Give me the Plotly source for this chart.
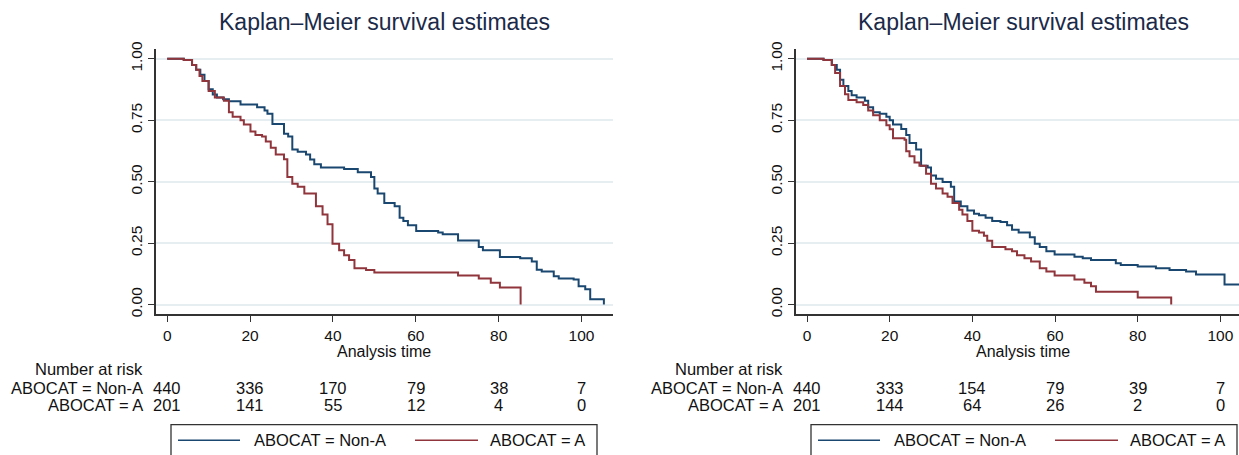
import plotly.graph_objects as go

# ---------------- data ----------------
left_nona_t = [0, 4.0, 6.0, 7.0, 8.0, 9.0, 10.0, 11.0, 12.0, 13.5, 14.9, 17.7, 21.7, 23.5, 24.2, 25.4,
               28.2, 29.2, 30.2, 31.5, 33.5, 34.5, 35.5, 37.1, 42.7, 46.0, 49.2, 50.0, 50.8, 52.4,
               54.9, 56.1, 57.0, 58.1, 60.1, 65.4, 66.5, 70.2, 75.2, 76.2, 80.3, 85.2, 88.0, 89.2,
               90.4, 93.3, 94.5, 98.1, 99.3, 100.9, 102.1, 105.4]
left_nona_s = [1.0, 0.995, 0.975, 0.955, 0.935, 0.91, 0.876, 0.855, 0.843, 0.835, 0.827, 0.814, 0.803,
               0.79, 0.776, 0.735, 0.695, 0.684, 0.631, 0.622, 0.611, 0.59, 0.571, 0.558, 0.552, 0.538,
               0.519, 0.472, 0.452, 0.413, 0.40, 0.353, 0.34, 0.323, 0.299, 0.293, 0.286, 0.261, 0.234,
               0.221, 0.194, 0.188, 0.175, 0.142, 0.135, 0.115, 0.106, 0.102, 0.075, 0.062, 0.022, 0.0]

left_a_t = [0, 4.0, 6.0, 7.0, 7.8, 8.5, 10.0, 11.5, 13.7, 14.9, 15.8, 17.7, 18.5, 20.1, 21.3, 22.9,
            23.8, 25.0, 26.2, 28.2, 29.0, 30.2, 31.5, 33.1, 35.9, 37.5, 38.7, 39.9, 41.5, 42.7, 43.9,
            45.2, 48.0, 50.0, 70.2, 75.2, 78.1, 80.3, 85.3]
left_a_s = [1.0, 0.995, 0.975, 0.955, 0.93, 0.91, 0.869, 0.843, 0.829, 0.783, 0.764, 0.75, 0.733,
            0.704, 0.69, 0.684, 0.664, 0.638, 0.611, 0.591, 0.519, 0.492, 0.479, 0.452, 0.40, 0.366,
            0.327, 0.247, 0.221, 0.201, 0.181, 0.148, 0.141, 0.131, 0.118, 0.106, 0.089, 0.069, 0.0]

right_nona_t = [0, 4.0, 6.0, 7.2, 8.0, 8.8, 10.0, 10.8, 12.0, 14.0, 14.8, 16.0, 17.6, 19.2, 20.0, 20.8,
                22.8, 24.0, 24.8, 26.4, 27.6, 29.2, 30.0, 31.2, 32.8, 34.8, 35.6, 37.2, 38.8, 40.4,
                41.6, 43.2, 44.8, 46.8, 48.4, 49.6, 51.2, 53.9, 55.1, 56.3, 57.9, 59.9, 64.7, 66.7,
                68.7, 74.7, 75.9, 80.0, 84.4, 87.7, 91.7, 94.1, 101.0, 106.0]
right_nona_s = [1.0, 0.995, 0.975, 0.955, 0.915, 0.889, 0.869, 0.852, 0.843, 0.829, 0.803, 0.783,
                0.776, 0.764, 0.75, 0.733, 0.714, 0.69, 0.657, 0.631, 0.565, 0.558, 0.525, 0.512,
                0.499, 0.479, 0.419, 0.40, 0.383, 0.37, 0.363, 0.353, 0.34, 0.336, 0.323, 0.304,
                0.293, 0.274, 0.247, 0.234, 0.217, 0.204, 0.195, 0.188, 0.181, 0.168, 0.161, 0.155,
                0.148, 0.141, 0.135, 0.122, 0.082, 0.082]

right_a_t = [0, 4.0, 6.0, 6.8, 8.0, 9.2, 10.0, 12.0, 13.6, 14.8, 16.0, 17.6, 19.2, 20.0, 20.8, 23.6,
             24.0, 24.8, 26.0, 27.2, 28.8, 30.0, 31.2, 32.8, 34.0, 35.2, 36.8, 37.6, 38.8, 40.0,
             41.6, 42.8, 43.6, 44.8, 48.0, 49.6, 50.8, 52.6, 54.2, 56.3, 57.9, 59.9, 64.7, 67.1,
             68.7, 69.9, 80.0, 88.1]
right_a_s = [1.0, 0.995, 0.975, 0.942, 0.889, 0.856, 0.832, 0.823, 0.812, 0.79, 0.77, 0.75, 0.73,
             0.713, 0.677, 0.671, 0.624, 0.604, 0.578, 0.565, 0.532, 0.492, 0.472, 0.452, 0.439,
             0.413, 0.386, 0.366, 0.34, 0.30, 0.293, 0.28, 0.26, 0.234, 0.225, 0.217, 0.201, 0.188,
             0.175, 0.148, 0.135, 0.118, 0.102, 0.089, 0.075, 0.052, 0.029, 0.0]

risk_times = [0, 20, 40, 60, 80, 100]
left_risk_nona = [440, 336, 170, 79, 38, 7]
left_risk_a = [201, 141, 55, 12, 4, 0]
right_risk_nona = [440, 333, 154, 79, 39, 7]
right_risk_a = [201, 144, 64, 26, 2, 0]

x_ticks = [0, 20, 40, 60, 80, 100]
y_ticks = [0, 0.25, 0.5, 0.75, 1.0]
y_ticklabels = ["0.00", "0.25", "0.50", "0.75", "1.00"]

title_text = "Kaplan\u2013Meier survival estimates"
label_nona = "ABOCAT = Non-A"
label_a = "ABOCAT = A"

# ---------------- styling ----------------
W, H = 1239, 455
BLUE = "#1a476f"
RED = "#90353b"
TXT = "#111111"
AX = "#333333"
GRID = "#e6eef2"
FONT = "Liberation Sans, Arial, sans-serif"


def px(x):
    return x / W


def py(y):
    return 1 - y / H


fig = go.Figure()

fig.add_trace(go.Scatter(x=left_nona_t, y=left_nona_s, mode="lines", line=dict(color=BLUE, width=2, shape="hv"),
                         name=label_nona, xaxis="x", yaxis="y"))
fig.add_trace(go.Scatter(x=left_a_t, y=left_a_s, mode="lines", line=dict(color=RED, width=2, shape="hv"),
                         name=label_a, xaxis="x", yaxis="y"))
fig.add_trace(go.Scatter(x=right_nona_t, y=right_nona_s, mode="lines", line=dict(color=BLUE, width=2, shape="hv"),
                         name=label_nona, xaxis="x2", yaxis="y2"))
fig.add_trace(go.Scatter(x=right_a_t, y=right_a_s, mode="lines", line=dict(color=RED, width=2, shape="hv"),
                         name=label_a, xaxis="x2", yaxis="y2"))

ydom = [py(314), py(42)]
xaxis_common = dict(tickvals=x_ticks, ticks="outside", ticklen=6, tickwidth=1.3, tickcolor=AX,
                    showline=True, linecolor=AX, linewidth=1.5, showgrid=False, zeroline=False,
                    tickfont=dict(family=FONT, size=15.5, color=TXT))
yaxis_common = dict(range=[-0.04, 1.04], tickvals=y_ticks, ticktext=y_ticklabels, tickangle=-90,
                    ticks="outside", ticklen=6, tickwidth=1.3, tickcolor=AX,
                    showline=True, linecolor=AX, linewidth=1.5, showgrid=True, gridcolor=GRID, gridwidth=1.5,
                    zeroline=False, tickfont=dict(family=FONT, size=15.5, color=TXT), domain=ydom)

xa1 = dict(xaxis_common); xa1.update(range=[-2.7, 107.6], domain=[px(156), px(613)], anchor="y")
xa2 = dict(xaxis_common); xa2.update(range=[-2.66, 104.5], domain=[px(796), 1.0], anchor="y2")
ya1 = dict(yaxis_common); ya1.update(anchor="x")
ya2 = dict(yaxis_common); ya2.update(anchor="x2")

fig.update_layout(width=W, height=H, margin=dict(l=0, r=0, t=0, b=0), paper_bgcolor="white",
                  plot_bgcolor="white", showlegend=False, xaxis=xa1, xaxis2=xa2, yaxis=ya1, yaxis2=ya2,
                  font=dict(family=FONT, size=16, color=TXT))

annotations = []
shapes = []

for cx in (384, 1023):
    annotations.append(dict(text=title_text, xref="paper", yref="paper", x=px(cx), y=py(14),
                            xanchor="center", yanchor="middle", showarrow=False,
                            font=dict(family=FONT, size=23, color="#1b2a48")))
    annotations.append(dict(text="Analysis time", xref="paper", yref="paper", x=px(cx), y=py(352),
                            xanchor="center", yanchor="middle", showarrow=False,
                            font=dict(family=FONT, size=16, color=TXT)))

for xref, rn, ra in (("x", left_risk_nona, left_risk_a), ("x2", right_risk_nona, right_risk_a)):
    annotations.append(dict(text="Number at risk", xref=xref, yref="paper", x=risk_times[0], xshift=-22,
                            y=py(370), xanchor="right", yanchor="middle", showarrow=False,
                            font=dict(family=FONT, size=16.5, color=TXT)))
    annotations.append(dict(text=label_nona, xref=xref, yref="paper", x=risk_times[0], xshift=-22,
                            y=py(389), xanchor="right", yanchor="middle", showarrow=False,
                            font=dict(family=FONT, size=16.5, color=TXT)))
    annotations.append(dict(text=label_a, xref=xref, yref="paper", x=risk_times[0], xshift=-22,
                            y=py(407), xanchor="right", yanchor="middle", showarrow=False,
                            font=dict(family=FONT, size=16.5, color=TXT)))
    for t, n1, n2 in zip(risk_times, rn, ra):
        annotations.append(dict(text=str(n1), xref=xref, yref="paper", x=t, y=py(389), xanchor="center",
                                yanchor="middle", showarrow=False, font=dict(family=FONT, size=16.5, color=TXT)))
        annotations.append(dict(text=str(n2), xref=xref, yref="paper", x=t, y=py(407), xanchor="center",
                                yanchor="middle", showarrow=False, font=dict(family=FONT, size=16.5, color=TXT)))

# manual legends (box + line samples + labels)
for bx in (171, 811):
    shapes.append(dict(type="rect", xref="paper", yref="paper", x0=px(bx), x1=px(bx + 426),
                       y0=py(463), y1=py(427), line=dict(color=AX, width=1.3), fillcolor="white"))
    shapes.append(dict(type="line", xref="paper", yref="paper", x0=px(bx + 7), x1=px(bx + 69),
                       y0=py(443), y1=py(443), line=dict(color=BLUE, width=1.6)))
    shapes.append(dict(type="line", xref="paper", yref="paper", x0=px(bx + 244), x1=px(bx + 307),
                       y0=py(443), y1=py(443), line=dict(color=RED, width=1.6)))
    annotations.append(dict(text=label_nona, xref="paper", yref="paper", x=px(bx + 81), y=py(443),
                            xanchor="left", yanchor="middle", showarrow=False,
                            font=dict(family=FONT, size=16.5, color=TXT)))
    annotations.append(dict(text=label_a, xref="paper", yref="paper", x=px(bx + 317), y=py(443),
                            xanchor="left", yanchor="middle", showarrow=False,
                            font=dict(family=FONT, size=16.5, color=TXT)))

fig.update_layout(annotations=annotations, shapes=shapes)
fig.write_html("out.html")
